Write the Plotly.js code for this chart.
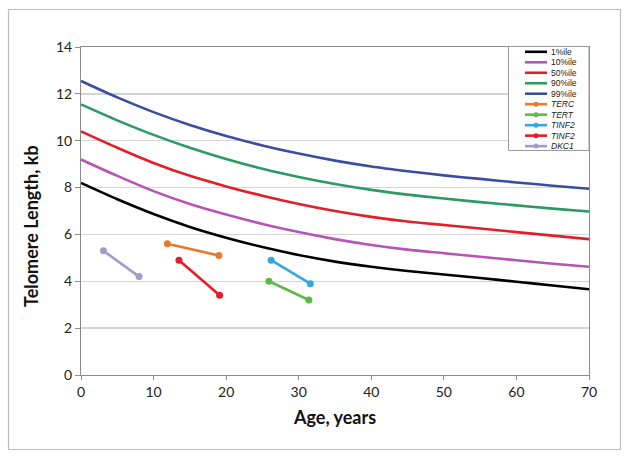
<!DOCTYPE html>
<html>
<head>
<meta charset="utf-8">
<script src="https://cdn.plot.ly/plotly-3.0.1.min.js"></script>
<style>
html,body{margin:0;padding:0;background:#fff;}
#chart{width:629px;height:457px;}
</style>
</head>
<body>
<div id="chart"></div>
<script>
// ---- Data ----
const ages = [0, 5, 10, 15, 20, 25, 30, 35, 40, 45, 50, 55, 60, 65, 70];
const p1  = [8.2, 7.5, 6.87, 6.32, 5.86, 5.46, 5.12, 4.84, 4.62, 4.44, 4.29, 4.14, 3.98, 3.82, 3.66];
const p10 = [9.2, 8.5, 7.85, 7.3, 6.85, 6.45, 6.1, 5.8, 5.55, 5.35, 5.2, 5.05, 4.9, 4.75, 4.62];
const p50 = [10.4, 9.7, 9.05, 8.5, 8.05, 7.65, 7.3, 7.0, 6.75, 6.55, 6.4, 6.25, 6.1, 5.95, 5.8];
const p90 = [11.55, 10.87, 10.25, 9.7, 9.22, 8.8, 8.45, 8.15, 7.9, 7.7, 7.53, 7.38, 7.24, 7.1, 6.98];
const p99 = [12.55, 11.85, 11.22, 10.67, 10.2, 9.8, 9.45, 9.15, 8.9, 8.7, 8.52, 8.37, 8.22, 8.08, 7.95];

const percentileNames = ["1%ile", "10%ile", "50%ile", "90%ile", "99%ile"];
const percentileColors = ["#000000", "#B854B4", "#E41E26", "#2E9A63", "#3A4DA0"];

const mutNames = ["TERC", "TERT", "TINF2", "TINF2", "DKC1"];
const mutColors = ["#E87A2C", "#5DB948", "#2FA9E0", "#E31E2A", "#A49BC9"];
const terc_x = [11.9, 19.0],  terc_y = [5.6, 5.1];
const tert_x = [25.9, 31.4],  tert_y = [4.0, 3.2];
const tinf2a_x = [26.2, 31.6], tinf2a_y = [4.9, 3.9];
const tinf2b_x = [13.5, 19.1], tinf2b_y = [4.9, 3.4];
const dkc1_x = [3.1, 8.0],    dkc1_y = [5.3, 4.2];

const xTicks = [0, 10, 20, 30, 40, 50, 60, 70];
const yTicks = [0, 2, 4, 6, 8, 10, 12, 14];

const xTitle = "Age, years";
const yTitle = "Telomere Length, kb";

// ---- Traces ----
const pctY = [p1, p10, p50, p90, p99];
const traces = [];
pctY.forEach((y, i) => {
  traces.push({x: ages, y: y, type: "scatter", mode: "lines", name: percentileNames[i],
    line: {color: percentileColors[i], width: 2.6, shape: "spline", smoothing: 0.7},
    showlegend: false, hoverinfo: "skip"});
});
const mutX = [terc_x, tert_x, tinf2a_x, tinf2b_x, dkc1_x];
const mutY = [terc_y, tert_y, tinf2a_y, tinf2b_y, dkc1_y];
mutX.forEach((x, i) => {
  traces.push({x: x, y: mutY[i], type: "scatter", mode: "lines+markers", name: mutNames[i],
    line: {color: mutColors[i], width: 2.6},
    marker: {color: mutColors[i], size: 7},
    showlegend: false, hoverinfo: "skip"});
});

// ---- Layout geometry (pixels) ----
const W = 629, H = 457;
const L = 81, R = 589, T = 47, B = 375;
const px2x = p => (p - L) / (R - L);
const py2y = p => (B - p) / (B - T);

const shapes = [];
const annotations = [];

// outer frame
shapes.push({type: "rect", xref: "paper", yref: "paper",
  x0: px2x(8.5), x1: px2x(620.5), y0: py2y(449.5), y1: py2y(9.5),
  line: {color: "#BDBDBD", width: 1.2}, fillcolor: "rgba(0,0,0,0)", layer: "below"});

// legend box
const lgL = 508.5, lgR = 589, lgT = 46.5, lgB = 150.5;
shapes.push({type: "rect", xref: "paper", yref: "paper",
  x0: px2x(lgL), x1: px2x(lgR), y0: py2y(lgB), y1: py2y(lgT),
  line: {color: "#9A9A9A", width: 1}, fillcolor: "#ffffff", layer: "above"});

const allNames = percentileNames.concat(mutNames);
const allColors = percentileColors.concat(mutColors);
allNames.forEach((nm, i) => {
  const cy = 51.8 + i * 10.48;
  shapes.push({type: "line", xref: "paper", yref: "paper",
    x0: px2x(525), x1: px2x(547), y0: py2y(cy), y1: py2y(cy),
    line: {color: allColors[i], width: 2.6}, layer: "above"});
  if (i >= 5) {
    shapes.push({type: "circle", xref: "paper", yref: "paper",
      x0: px2x(533.5), x1: px2x(538.5), y0: py2y(cy + 2.5), y1: py2y(cy - 2.5),
      line: {color: allColors[i], width: 0}, fillcolor: allColors[i], layer: "above"});
  }
  annotations.push({xref: "paper", yref: "paper", x: px2x(548.5), y: py2y(cy),
    xanchor: "left", yanchor: "middle", showarrow: false,
    text: i >= 5 ? "<i>" + nm + "</i>" : nm,
    font: {family: "Liberation Sans, Arial, sans-serif", size: 8.5, color: "#222"}});
});

// y-axis title as annotation (positioned like the reference)
annotations.push({xref: "paper", yref: "paper", x: px2x(31), y: py2y(226),
  xanchor: "center", yanchor: "middle", showarrow: false, textangle: -90,
  text: "<b>" + yTitle + "</b>",
  font: {family: "Lato, sans-serif", size: 18, color: "#111"}});

const layout = {
  width: W, height: H,
  margin: {l: L, r: W - R, t: T, b: H - B, pad: 0},
  paper_bgcolor: "#ffffff", plot_bgcolor: "#ffffff",
  showlegend: false,
  font: {family: "Lato, 'Open Sans', sans-serif", size: 13, color: "#222"},
  xaxis: {
    range: [0, 70], tickvals: xTicks, ticktext: xTicks.map(String),
    showgrid: false, zeroline: false,
    showline: true, linecolor: "#8C8C8C", linewidth: 1, mirror: true,
    ticks: "outside", ticklen: 4, tickcolor: "#8C8C8C",
    tickfont: {family: "Lato, sans-serif", size: 14, color: "#222"},
    title: {text: "<b>" + xTitle + "</b>", font: {family: "Lato, sans-serif", size: 18, color: "#111"}, standoff: 12}
  },
  yaxis: {
    range: [0, 14], tickvals: yTicks, ticktext: yTicks.map(String),
    showgrid: true, gridcolor: "#D4D4D4", gridwidth: 1.3, zeroline: false,
    showline: true, linecolor: "#8C8C8C", linewidth: 1, mirror: true,
    ticks: "outside", ticklen: 5, tickcolor: "#8C8C8C",
    tickfont: {family: "Lato, sans-serif", size: 14, color: "#222"}
  },
  shapes: shapes,
  annotations: annotations
};

Plotly.newPlot("chart", traces, layout, {staticPlot: true, displayModeBar: false});
</script>
</body>
</html>
